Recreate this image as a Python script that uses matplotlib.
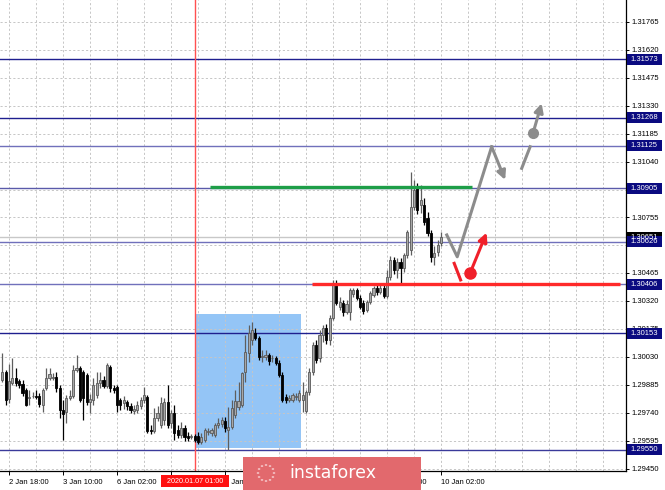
import numpy as np
import matplotlib
matplotlib.use("Agg")
import matplotlib.pyplot as plt
from matplotlib.patches import Rectangle
from matplotlib import transforms

# ---------------- data (H1 candles, bars -2 .. 128) ----------------
bar_start = -2
opens = [1.29911, 1.29952, 1.29813, 1.29895, 1.29921, 1.29906, 1.29890, 1.29859, 1.29818, 1.29828,
         1.29828, 1.29828, 1.29782, 1.29870, 1.29921, 1.29921, 1.29926, 1.29870, 1.29756, 1.29745,
         1.29818, 1.29828, 1.29963, 1.29973, 1.29952, 1.29937, 1.29797, 1.29807, 1.29833, 1.29895,
         1.29911, 1.29880, 1.29978, 1.29870, 1.29875, 1.29807, 1.29792, 1.29797, 1.29776, 1.29750,
         1.29756, 1.29776, 1.29807, 1.29823, 1.29652, 1.29647, 1.29714, 1.29678, 1.29704, 1.29797,
         1.29688, 1.29740, 1.29652, 1.29626, 1.29662, 1.29621, 1.29616, 1.29621, 1.29621, 1.29590,
         1.29600, 1.29642, 1.29637, 1.29626, 1.29678, 1.29683, 1.29699, 1.29652, 1.29668, 1.29730,
         1.29771, 1.29782, 1.29952, 1.30051, 1.30118, 1.30154, 1.30128, 1.30030, 1.30030, 1.30040,
         1.30025, 1.30025, 1.29999, 1.29937, 1.29823, 1.29807, 1.29807, 1.29823, 1.29807, 1.29807,
         1.29750, 1.29849, 1.29952, 1.30092, 1.30025, 1.30144, 1.30180, 1.30118, 1.30232, 1.30413,
         1.30289, 1.30310, 1.30263, 1.30263, 1.30356, 1.30377, 1.30336, 1.30310, 1.30274, 1.30315,
         1.30351, 1.30387, 1.30367, 1.30387, 1.30346, 1.30444, 1.30532, 1.30481, 1.30522, 1.30491,
         1.30558, 1.30584, 1.30807, 1.30905, 1.30817, 1.30817, 1.30750, 1.30672, 1.30548, 1.30574,
         1.30620]
closes = [1.29952, 1.29807, 1.29906, 1.29921, 1.29895, 1.29885, 1.29844, 1.29782, 1.29823, 1.29828,
          1.29823, 1.29787, 1.29859, 1.29921, 1.29942, 1.29926, 1.29870, 1.29756, 1.29735, 1.29818,
          1.29828, 1.29963, 1.29973, 1.29807, 1.29818, 1.29797, 1.29813, 1.29885, 1.29895, 1.29911,
          1.29880, 1.29989, 1.29870, 1.29859, 1.29782, 1.29782, 1.29807, 1.29776, 1.29756, 1.29761,
          1.29782, 1.29807, 1.29833, 1.29647, 1.29647, 1.29714, 1.29740, 1.29792, 1.29797, 1.29678,
          1.29740, 1.29637, 1.29626, 1.29662, 1.29616, 1.29611, 1.29621, 1.29600, 1.29590, 1.29616,
          1.29652, 1.29647, 1.29652, 1.29678, 1.29688, 1.29704, 1.29662, 1.29668, 1.29766, 1.29802,
          1.29802, 1.29947, 1.30056, 1.30154, 1.30170, 1.30128, 1.30030, 1.30035, 1.30040, 1.30009,
          1.30025, 1.29999, 1.29937, 1.29807, 1.29807, 1.29818, 1.29833, 1.29828, 1.29844, 1.29833,
          1.29849, 1.29952, 1.30092, 1.30015, 1.30144, 1.30180, 1.30118, 1.30232, 1.30413, 1.30310,
          1.30315, 1.30263, 1.30305, 1.30377, 1.30377, 1.30336, 1.30289, 1.30268, 1.30315, 1.30362,
          1.30387, 1.30367, 1.30387, 1.30346, 1.30444, 1.30532, 1.30481, 1.30522, 1.30491, 1.30558,
          1.30677, 1.30807, 1.30895, 1.30791, 1.30843, 1.30729, 1.30672, 1.30548, 1.30569, 1.30610,
          1.30651]
highs = [1.30051, 1.29963, 1.29994, 1.30025, 1.29973, 1.29916, 1.29911, 1.29870, 1.29859, 1.29849,
         1.29859, 1.29844, 1.29870, 1.29973, 1.29973, 1.29947, 1.29952, 1.29885, 1.29807, 1.29833,
         1.29859, 1.29989, 1.30040, 1.29983, 1.29963, 1.29947, 1.29838, 1.29921, 1.29952, 1.29952,
         1.29932, 1.29999, 1.29989, 1.29885, 1.29885, 1.29818, 1.29828, 1.29807, 1.29792, 1.29782,
         1.29802, 1.29823, 1.29875, 1.29833, 1.29678, 1.29766, 1.29776, 1.29823, 1.29818, 1.29885,
         1.29756, 1.29782, 1.29678, 1.29693, 1.29678, 1.29642, 1.29631, 1.29631, 1.29642, 1.29637,
         1.29662, 1.29662, 1.29662, 1.29688, 1.29714, 1.29719, 1.29719, 1.29771, 1.29807, 1.29859,
         1.29901, 1.29952, 1.30144, 1.30196, 1.30211, 1.30180, 1.30139, 1.30066, 1.30066, 1.30051,
         1.30040, 1.30035, 1.30015, 1.29952, 1.29838, 1.29833, 1.29844, 1.29844, 1.29859, 1.29901,
         1.29859, 1.29973, 1.30108, 1.30118, 1.30170, 1.30196, 1.30201, 1.30248, 1.30429, 1.30429,
         1.30341, 1.30325, 1.30325, 1.30387, 1.30387, 1.30387, 1.30351, 1.30325, 1.30325, 1.30372,
         1.30398, 1.30403, 1.30403, 1.30403, 1.30481, 1.30553, 1.30548, 1.30543, 1.30543, 1.30569,
         1.30688, 1.30988, 1.30947, 1.30931, 1.30921, 1.30854, 1.30781, 1.30688, 1.30605, 1.30636,
         1.30677]
lows = [1.29901, 1.29782, 1.29792, 1.29885, 1.29880, 1.29870, 1.29828, 1.29776, 1.29782, 1.29818,
        1.29813, 1.29771, 1.29745, 1.29859, 1.29911, 1.29911, 1.29849, 1.29714, 1.29600, 1.29688,
        1.29807, 1.29818, 1.29952, 1.29797, 1.29704, 1.29782, 1.29740, 1.29782, 1.29818, 1.29870,
        1.29870, 1.29870, 1.29849, 1.29844, 1.29745, 1.29756, 1.29761, 1.29756, 1.29740, 1.29735,
        1.29740, 1.29761, 1.29792, 1.29637, 1.29631, 1.29637, 1.29699, 1.29662, 1.29678, 1.29662,
        1.29662, 1.29600, 1.29611, 1.29611, 1.29595, 1.29595, 1.29605, 1.29590, 1.29580, 1.29580,
        1.29590, 1.29626, 1.29621, 1.29616, 1.29662, 1.29668, 1.29642, 1.29548, 1.29657, 1.29714,
        1.29756, 1.29771, 1.29901, 1.30004, 1.30092, 1.30118, 1.30015, 1.30004, 1.30015, 1.29989,
        1.30004, 1.29989, 1.29926, 1.29797, 1.29792, 1.29797, 1.29797, 1.29807, 1.29797, 1.29745,
        1.29740, 1.29833, 1.29937, 1.29999, 1.30004, 1.30108, 1.30097, 1.30092, 1.30222, 1.30299,
        1.30274, 1.30242, 1.30253, 1.30222, 1.30341, 1.30325, 1.30279, 1.30253, 1.30263, 1.30305,
        1.30341, 1.30351, 1.30356, 1.30336, 1.30336, 1.30429, 1.30460, 1.30439, 1.30413, 1.30470,
        1.30543, 1.30558, 1.30791, 1.30771, 1.30776, 1.30714, 1.30657, 1.30522, 1.30507, 1.30553,
        1.30605]

# price levels (horizontal lines with right-hand labels)
level_prices = [1.31573, 1.31268, 1.31125, 1.30905, 1.30626, 1.30406, 1.30153, 1.29550]
level_colors = ['#1f1f8f', '#1f1f8f', '#7070bb', '#5a5aaa', '#7070bb', '#7070bb', '#1f1f8f', '#3a3a9a']
current_price = 1.30651

# right axis ticks (labels hidden behind level boxes are left blank)
y_ticks = [1.31765, 1.31620, 1.31475, 1.31330, 1.31185, 1.31040, 1.30895, 1.30755, 1.30610,
           1.30465, 1.30320, 1.30175, 1.30030, 1.29885, 1.29740, 1.29595, 1.29450]
y_hidden = [1.30895, 1.30610]
# time axis (labels fully covered in the reference are blank)
x_tick_bars = [0, 16, 32, 48, 64, 80, 96, 112, 128]
x_tick_labels = ["2 Jan 18:00", "3 Jan 10:00", "6 Jan 02:00", "", "7 Jan 10:00",
                 "", "", "9 Jan 10:00", "10 Jan 02:00"]
cursor_bar = 55
cursor_label = "2020.01.07 01:00"

# drawings (bar index, price)
box_bars = [55.1, 86.5]
box_prices = [1.29558, 1.30253]
green_bars = [59.6, 137.2]
green_price = 1.30908
red_bars = [89.8, 181.0]
red_price = 1.30406
gray_path_bars = [129.7, 132.8, 143.0, 147.0]
gray_path_prices = [1.30662, 1.30549, 1.31119, 1.30947]
gray_seg_bars = [151.9, 154.4]
gray_seg_prices = [1.31007, 1.31119]
gray_dot = (155.3, 1.31192)
gray_arrow_end = (157.8, 1.31344)
red_seg_bars = [131.9, 133.8]
red_seg_prices = [1.30515, 1.30429]
red_dot = (136.6, 1.30464)
red_arrow_end = (141.5, 1.30674)

# ---------------- figure ----------------
W, H = 665, 490
fig = plt.figure(figsize=(W / 100, H / 100), dpi=100)
ax = fig.add_axes([0, 19 / H, 626 / W, 471 / H])
ax.set_xlim(-2.667, 182.8)
ax.set_ylim(1.294395, 1.318789)
for s in ['left', 'top']:
    ax.spines[s].set_visible(False)
for s in ['right', 'bottom']:
    ax.spines[s].set_color('black')
    ax.spines[s].set_linewidth(0.9)

font = 'Liberation Sans'
ax.yaxis.tick_right()
ax.set_yticks(y_ticks)
ax.set_yticklabels(["" if v in y_hidden else f"{v:.5f}" for v in y_ticks], fontsize=5.5, family=font)
ax.tick_params(axis='y', length=2.5, width=0.7, pad=1.5, colors='black')
ax.set_xticks(x_tick_bars)
ax.set_xticklabels(x_tick_labels, fontsize=5.5, family=font, ha='left')
ax.tick_params(axis='x', length=3, width=0.7, pad=2.5)

# grid
grid_kw = dict(color='#c6c6c6', lw=0.7, ls=(0, (2.2, 2.2)), zorder=0.6)
for k in range(0, 184, 8):
    ax.axvline(k, **grid_kw)
for v in y_ticks:
    ax.axhline(v, **grid_kw)

# blue box
ax.add_patch(Rectangle((box_bars[0], box_prices[0]), box_bars[1] - box_bars[0],
                       box_prices[1] - box_prices[0], facecolor='#94c5f6', edgecolor='none', zorder=0.5))

# level lines
for p, c in zip(level_prices, level_colors):
    ax.axhline(p, color=c, lw=1.0, zorder=2)
ax.axhline(current_price, color='#c8c8c8', lw=1.0, zorder=1.8)

# cursor line
ax.axvline(cursor_bar, color='#ff5050', lw=1.0, zorder=2)

# candles
x = np.arange(bar_start, bar_start + len(opens))
o = np.array(opens); c = np.array(closes); h = np.array(highs); l = np.array(lows)
bull = c >= o
ax.vlines(x[bull], l[bull], h[bull], color='#5e5e5e', lw=0.9, zorder=3)
ax.vlines(x[~bull], l[~bull], h[~bull], color='black', lw=0.9, zorder=3)
body_h = np.maximum(np.abs(c - o), 0.00002)
bottoms = np.minimum(o, c)
ax.bar(x[bull], body_h[bull], bottom=bottoms[bull], width=0.64, color='#a8a8a8',
       edgecolor='#5a5a5a', linewidth=0.6, zorder=3.1)
ax.bar(x[~bull], body_h[~bull], bottom=bottoms[~bull], width=0.64, color='black',
       edgecolor='black', linewidth=0.6, zorder=3.1)

# drawings
ax.plot(green_bars, [green_price] * 2, color='#1e9e48', lw=2.4, zorder=4, solid_capstyle='butt')
ax.plot(red_bars, [red_price] * 2, color='#ff2a2a', lw=2.4, zorder=4, solid_capstyle='butt')

gray = '#8c8c8c'
ax.plot(gray_path_bars[:3], gray_path_prices[:3], color=gray, lw=2.2, zorder=4)
ax.annotate('', xy=(gray_path_bars[3], gray_path_prices[3]), xytext=(gray_path_bars[2], gray_path_prices[2]),
            arrowprops=dict(arrowstyle='-|>', color=gray, lw=2.2, mutation_scale=13, shrinkA=0, shrinkB=0),
            zorder=4)
ax.plot(gray_seg_bars, gray_seg_prices, color=gray, lw=2.2, zorder=4)
ax.plot([gray_dot[0]], [gray_dot[1]], 'o', color=gray, ms=7, zorder=4)
ax.annotate('', xy=gray_arrow_end, xytext=gray_dot,
            arrowprops=dict(arrowstyle='-|>', color=gray, lw=2.2, mutation_scale=13, shrinkA=0, shrinkB=0),
            zorder=4)

redc = '#f0202a'
ax.plot(red_seg_bars, red_seg_prices, color=redc, lw=2.2, zorder=4)
ax.plot([red_dot[0]], [red_dot[1]], 'o', color=redc, ms=8, zorder=4)
ax.annotate('', xy=red_arrow_end, xytext=red_dot,
            arrowprops=dict(arrowstyle='-|>', color=redc, lw=2.2, mutation_scale=13, shrinkA=0, shrinkB=0),
            zorder=4)

# right-hand level labels
blend = transforms.blended_transform_factory(ax.transAxes, ax.transData)
bw = 35 / 626
bh = 11 / 19308


def level_label(p, face):
    ax.add_patch(Rectangle((1.0015, p - bh / 2), bw, bh, transform=blend, facecolor=face,
                           edgecolor='none', clip_on=False, zorder=6))
    ax.text(1.0015 + bw / 2, p, f"{p:.5f}", transform=blend, ha='center', va='center',
            color='white', fontsize=5.5, family=font, clip_on=False, zorder=7)


level_label(current_price, 'black')
for p in level_prices:
    level_label(p, '#0a0a80')

# cursor time label
fig.patches.append(Rectangle((161 / W, 3 / H), 68 / W, 12 / H, transform=fig.transFigure,
                             facecolor='#ff1010', edgecolor='none', zorder=5))
fig.text(195 / W, 9 / H, cursor_label, ha='center', va='center', color='white',
         fontsize=5.2, family=font, zorder=6)

# watermark
fig.patches.append(Rectangle((243 / W, 0), 178 / W, 33 / H, transform=fig.transFigure,
                             facecolor='#e2696d', edgecolor='none', zorder=5))
fig.text(333 / W, 17 / H, 'instaforex', ha='center', va='center', color='white',
         fontsize=12.5, family='DejaVu Sans', zorder=6)
ang = np.linspace(0, 2 * np.pi, 12, endpoint=False)
for a in ang:
    fig.patches.append(plt.Circle(((266 + 8 * np.cos(a)) / W, (17 + 8 * np.sin(a)) / H), 1.3 / W,
                                  transform=fig.transFigure, facecolor='#f4c0c2', edgecolor='none', zorder=6))

fig.savefig('out.png', dpi=100)
